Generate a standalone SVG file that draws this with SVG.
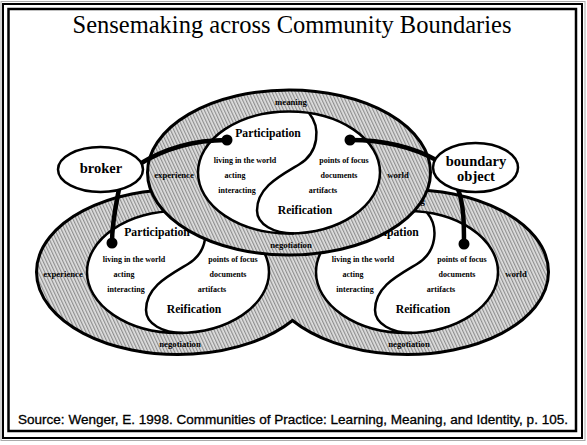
<svg xmlns="http://www.w3.org/2000/svg" width="587" height="445" viewBox="0 0 587 445">
<defs>
<pattern id="hatch" patternUnits="userSpaceOnUse" width="3" height="3" patternTransform="rotate(-25)">
<rect width="3" height="3" fill="#e0e0e0"/>
<rect width="1.2" height="3" fill="#8f8f8f"/>
</pattern>
<style>
.frame{fill:none;stroke:#000}
.ring{fill:url(#hatch);stroke:#000;stroke-width:3}
.inner{fill:#fff;stroke:#000;stroke-width:2.5}
.div{fill:none;stroke:#000;stroke-width:2.5}
.t{font-family:"Liberation Serif","Times New Roman",serif;font-weight:bold;text-anchor:middle;fill:#000}
.big{font-size:11.7px}
.sm{font-size:8px}
.rl{font-size:8.7px}
.node{fill:#fff;stroke:#000;stroke-width:2.5}
.nt{font-size:14.5px}
.con{fill:none;stroke:#000;stroke-width:4.5;stroke-linecap:round}
.dot{fill:#000}
</style>
</defs>
<rect width="587" height="445" fill="#fff"/>
<rect x="1" y="1.5" width="584" height="439" fill="none" stroke="#aaa" stroke-width="1"/>
<rect class="frame" x="3" y="4" width="579" height="434" stroke-width="2"/>
<rect class="frame" x="8.5" y="9" width="567.5" height="422" stroke-width="2.5"/>
<text x="292" y="33" font-family="Liberation Serif, Times New Roman, serif" font-size="24.5" text-anchor="middle">Sensemaking across Community Boundaries</text>

<g id="rings-left-right">
<path class="ring" d="M 292.5 223.53 A 141.5 82.5 0 1 0 292.5 320.47 A 141.5 82.5 0 1 0 292.5 223.53 Z"/>
</g>

<g id="community-left" transform="translate(178 272)">
<text class="t rl" x="-115" y="5">experience</text>
<text class="t rl" x="2" y="75">negotiation</text>
<ellipse class="inner" cx="0" cy="0" rx="91" ry="61"/>
<path class="div" d="M 20 -59.5 C 32 -45, 30 -20, 10 -8 C -10 4, -32 15, -32 38 C -32 52, -15 61, 5 60.9"/>
<text class="t big" x="-21" y="-36">Participation</text>
<text class="t big" x="16" y="41">Reification</text>
<text class="t sm" x="-44" y="-10">living in the world</text>
<text class="t sm" x="-54" y="5">acting</text>
<text class="t sm" x="-52" y="20">interacting</text>
<text class="t sm" x="55" y="-10">points of focus</text>
<text class="t sm" x="50" y="5">documents</text>
<text class="t sm" x="34" y="20">artifacts</text>
</g>

<g id="community-right" transform="translate(407 272)">
<text class="t rl" x="2" y="-68">meaning</text>
<text class="t rl" x="109" y="5">world</text>
<text class="t rl" x="2" y="75">negotiation</text>
<ellipse class="inner" cx="0" cy="0" rx="91" ry="61"/>
<path class="div" d="M 20 -59.5 C 32 -45, 30 -20, 10 -8 C -10 4, -32 15, -32 38 C -32 52, -15 61, 5 60.9"/>
<text class="t big" x="-21" y="-36">Participation</text>
<text class="t big" x="16" y="41">Reification</text>
<text class="t sm" x="-44" y="-10">living in the world</text>
<text class="t sm" x="-54" y="5">acting</text>
<text class="t sm" x="-52" y="20">interacting</text>
<text class="t sm" x="55" y="-10">points of focus</text>
<text class="t sm" x="50" y="5">documents</text>
<text class="t sm" x="34" y="20">artifacts</text>
</g>

<g id="community-top" transform="translate(289 172.5)">
<ellipse class="ring" cx="0" cy="0" rx="141.5" ry="82.5"/>
<text class="t rl" x="2" y="-68">meaning</text>
<text class="t rl" x="-115" y="5">experience</text>
<text class="t rl" x="109" y="5">world</text>
<text class="t rl" x="2" y="75">negotiation</text>
<ellipse class="inner" cx="0" cy="0" rx="91" ry="61"/>
<path class="div" d="M 20 -59.5 C 32 -45, 30 -20, 10 -8 C -10 4, -32 15, -32 38 C -32 52, -15 61, 5 60.9"/>
<text class="t big" x="-21" y="-36">Participation</text>
<text class="t big" x="16" y="41">Reification</text>
<text class="t sm" x="-44" y="-10">living in the world</text>
<text class="t sm" x="-54" y="5">acting</text>
<text class="t sm" x="-52" y="20">interacting</text>
<text class="t sm" x="55" y="-10">points of focus</text>
<text class="t sm" x="50" y="5">documents</text>
<text class="t sm" x="34" y="20">artifacts</text>
</g>

<g id="connectors">
<path class="con" d="M 138 165 C 165 148, 195 140, 227 140"/>
<circle class="dot" cx="227" cy="140" r="5.5"/>
<path class="con" d="M 119 189 C 116 205, 112 222, 112 243"/>
<circle class="dot" cx="112" cy="243" r="5.5"/>
<path class="con" d="M 350 140 C 380 140, 410 145, 438 161"/>
<circle class="dot" cx="350" cy="140" r="5.5"/>
<path class="con" d="M 458 189 C 464 205, 464 225, 464 244"/>
<circle class="dot" cx="464" cy="244" r="5.5"/>
</g>

<g id="broker">
<ellipse class="node" cx="100.5" cy="169.5" rx="42.5" ry="22.5"/>
<text class="t nt" x="101" y="173">broker</text>
</g>

<g id="boundary-object">
<ellipse class="node" cx="475.5" cy="167.5" rx="42.5" ry="24.5"/>
<text class="t nt" x="476" y="166">boundary</text>
<text class="t nt" x="476" y="181">object</text>
</g>

<text x="293" y="424" font-family="Liberation Sans, Arial, sans-serif" font-size="12.5" text-anchor="middle" textLength="550" lengthAdjust="spacingAndGlyphs" stroke="#000" stroke-width="0.3">Source: Wenger, E. 1998. Communities of Practice: Learning, Meaning, and Identity, p. 105.</text>
</svg>
